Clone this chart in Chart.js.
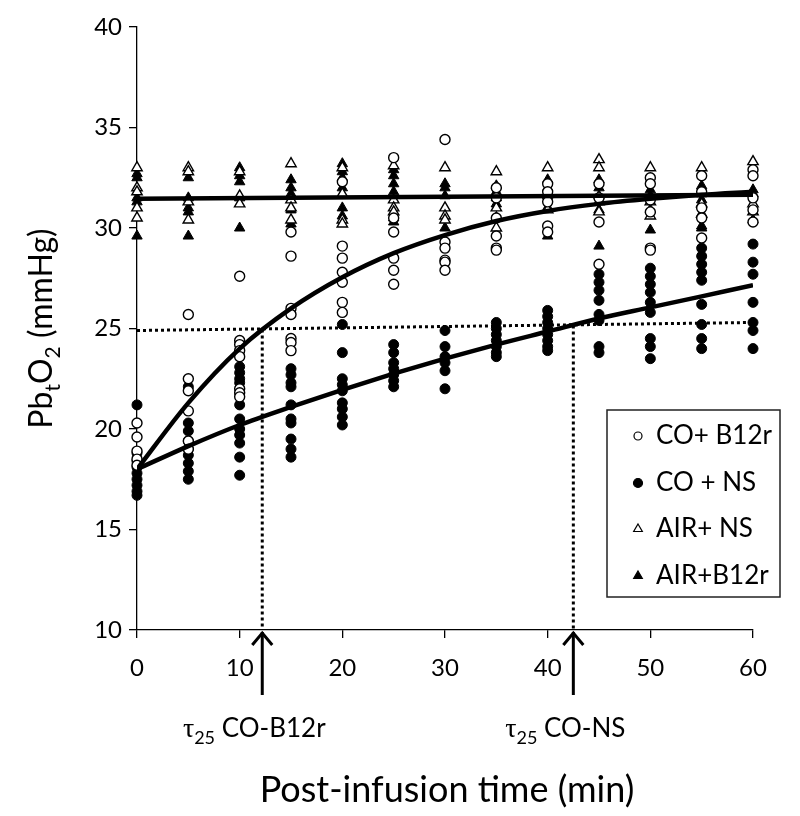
<!DOCTYPE html>
<html>
<head>
<meta charset="utf-8">
<script src="https://cdn.jsdelivr.net/npm/chart.js@4.4.1/dist/chart.umd.min.js"></script>
<style>
  html, body { margin: 0; padding: 0; background: #fff; }
  #box { width: 800px; height: 816px; }
</style>
</head>
<body>
<div id="box"><canvas id="pbto2"></canvas></div>
<script>
// sampling times (min)
var times = [0, 5, 10, 15, 20, 25, 30, 35, 40, 45, 50, 55, 60];

// individual PbtO2 values read per time point
var coB12r = [
    [20.3, 19.6, 18.9, 18.5, 18.2],
    [25.7, 22.5, 21.9, 20.9, 19.4, 19.0],
    [27.6, 24.4, 24.2, 23.9, 23.6, 22.0, 21.8, 21.6],
    [29.8, 28.6, 26.0, 25.7, 24.5, 24.3, 23.9],
    [32.3, 29.1, 28.5, 27.8, 27.3, 26.3, 25.8],
    [33.5, 30.5, 29.8, 28.5, 27.9, 27.2],
    [34.4, 29.3, 29.0, 28.4, 28.3, 27.9],
    [32.0, 31.5, 30.5, 29.6, 29.0, 28.9],
    [32.2, 31.8, 31.3, 30.1, 29.8],
    [32.2, 31.5, 30.3, 28.2],
    [32.5, 32.2, 31.4, 30.8, 29.0, 28.9],
    [32.6, 31.8, 31.0, 30.5, 29.5],
    [32.9, 32.6, 31.5, 30.9, 30.3]
];
var coNS = [
    [21.2, 18.8, 18.4, 18.1, 17.8, 17.5, 17.2, 16.9, 16.7],
    [22.1, 20.3, 19.9, 19.4, 19.0, 18.7, 18.3, 17.9, 17.5],
    [23.1, 22.8, 22.5, 22.3, 21.2, 20.5, 20.0, 19.7, 19.3, 18.6, 17.7],
    [23.0, 22.7, 22.3, 22.1, 21.2, 20.5, 20.3, 19.5, 19.0, 18.6],
    [25.2, 23.8, 22.5, 22.2, 21.9, 21.3, 21.0, 20.6, 20.2],
    [24.2, 23.8, 23.3, 23.0, 22.7, 22.4, 22.1],
    [24.9, 24.1, 23.6, 23.3, 22.9, 22.0],
    [25.3, 25.0, 24.7, 24.4, 24.1, 23.8, 23.6],
    [25.9, 25.6, 25.3, 25.0, 24.7, 24.4, 24.1, 23.9],
    [27.7, 27.3, 26.9, 26.4, 25.7, 25.4, 24.1, 23.8],
    [28.0, 27.6, 27.2, 26.8, 26.3, 25.8, 24.5, 24.1, 23.5],
    [29.0, 28.6, 28.2, 27.8, 27.4, 26.2, 25.2, 24.5, 24.0],
    [29.2, 28.3, 27.7, 26.3, 25.3, 24.9, 24.0]
];
var airNS = [
    [33.0, 32.0, 31.8, 31.0, 30.5],
    [33.0, 32.8, 31.3, 30.4],
    [32.8, 31.6, 31.2],
    [33.2, 31.4, 31.0, 30.4],
    [33.0, 31.7, 30.4, 30.2],
    [33.1, 31.4, 31.0, 30.8],
    [33.0, 31.0, 30.6, 30.4],
    [32.8, 31.0, 30.5, 30.0],
    [33.0, 31.0, 30.9],
    [33.4, 33.0, 31.3, 30.8],
    [33.0, 31.3, 30.6],
    [33.0, 31.2, 30.7],
    [33.3, 31.2, 30.8]
];
var airB12r = [
    [32.7, 32.5, 31.5, 31.3, 29.6],
    [32.5, 31.5, 31.0, 30.8, 29.6],
    [33.0, 32.6, 32.3, 31.5, 30.0],
    [32.4, 32.0, 31.7, 30.9, 30.2],
    [33.2, 32.8, 32.5, 32.0, 31.0, 30.6],
    [32.9, 32.6, 32.2, 31.8, 30.5, 30.3],
    [32.2, 32.0, 31.6, 30.0],
    [32.1, 31.8, 31.5, 31.2],
    [32.4, 32.0, 31.6, 29.6],
    [32.4, 32.0, 31.6, 30.9, 29.1],
    [31.9, 31.6, 30.9, 29.9],
    [32.1, 31.7, 31.4, 30.1, 30.0],
    [31.9, 31.7, 30.4]
];

// fitted curves
var coB12rFit = [18.0, 21.3, 24.0, 26.0, 27.55, 28.75, 29.65, 30.35, 30.85, 31.2, 31.45, 31.65, 31.8];
var coNSFit = [18.0, 19.15, 20.2, 21.1, 21.95, 22.75, 23.5, 24.2, 24.85, 25.5, 26.05, 26.6, 27.15];
var airFitTimes = [0, 60];
var airFit = [31.45, 31.65];

// 25 mmHg threshold and tau25 markers
var thresholdTimes = [0, 60];
var threshold = [24.9, 25.3];
var tau25 = [12.2, 42.5];
var tau25Level = [24.95, 25.15];
var tau25Labels = ['CO-B12r', 'CO-NS'];

var xTicks = [0, 10, 20, 30, 40, 50, 60];
var legendLabels = ['CO+ B12r', 'CO + NS', 'AIR+ NS', 'AIR+B12r'];

var SANS = 'Lato, "Liberation Sans", sans-serif';

function points(groups) {
    var out = [];
    times.forEach(function (t, i) {
        groups[i].forEach(function (v) { out.push({x: t, y: v}); });
    });
    return out;
}
function curve(xs, ys) {
    return xs.map(function (t, i) { return {x: t, y: ys[i]}; });
}

var fitStyle = {showLine: true, pointRadius: 0, borderColor: '#000', borderWidth: 4.5,
                cubicInterpolationMode: 'monotone', fill: false};
var dotStyle = {showLine: true, pointRadius: 0, borderColor: '#000', borderWidth: 3,
                borderDash: [3, 3], fill: false};

var markerStyles = [
    {pointStyle: 'circle', pointRadius: 5, backgroundColor: '#fff', borderColor: '#000', borderWidth: 1.4},
    {pointStyle: 'circle', pointRadius: 5, backgroundColor: '#000', borderColor: '#000', borderWidth: 1},
    {pointStyle: 'triangle', pointRadius: 6, backgroundColor: '#fff', borderColor: '#000', borderWidth: 1.4},
    {pointStyle: 'triangle', pointRadius: 6, backgroundColor: '#000', borderColor: '#000', borderWidth: 1}
];

var datasets = [
    Object.assign({label: 'fit CO+B12r', data: curve(times, coB12rFit)}, fitStyle),
    Object.assign({label: 'fit CO+NS', data: curve(times, coNSFit)}, fitStyle),
    Object.assign({label: 'fit AIR', data: curve(airFitTimes, airFit)}, fitStyle)
];
[coB12r, coNS, airNS, airB12r].forEach(function (g, i) {
    datasets.push(Object.assign({label: legendLabels[i], data: points(g), clip: false}, markerStyles[i]));
});
datasets.push(Object.assign({label: 'threshold', data: curve(thresholdTimes, threshold)}, dotStyle));
tau25.forEach(function (t, i) {
    datasets.push(Object.assign({label: 'tau' + i, data: [{x: t, y: tau25Level[i]}, {x: t, y: 10}]}, dotStyle));
});

// legend box inside the plot
var boxLegend = {
    id: 'boxLegend',
    afterDraw: function (chart) {
        var c = chart.ctx;
        c.save();
        c.strokeStyle = '#222';
        c.lineWidth = 1.5;
        c.strokeRect(607, 410, 173, 187);
        var rows = [435, 482, 528, 575];
        legendLabels.forEach(function (lab, i) {
            var m = markerStyles[i];
            c.fillStyle = m.backgroundColor;
            c.strokeStyle = '#000';
            c.lineWidth = 1.2;
            var r = m.pointStyle === 'circle' ? (i === 0 ? 4 : 4.5) : 5;
            Chart.helpers.drawPoint(c, {pointStyle: m.pointStyle, radius: r, borderWidth: 1.2},
                                    638, rows[i] + 1);
            c.font = '26px ' + SANS;
            c.fillStyle = '#000';
            c.textAlign = 'left';
            c.textBaseline = 'alphabetic';
            c.fillText(lab, 656, rows[i] + 9);
        });
        c.restore();
    }
};

// axis titles (with subscripts) and tau25 arrows under the x axis
var extras = {
    id: 'extras',
    afterDraw: function (chart) {
        var c = chart.ctx;
        var xs = chart.scales.x;
        c.save();
        c.fillStyle = '#000';
        c.strokeStyle = '#000';

        // x title
        c.font = '36px ' + SANS;
        c.textAlign = 'center';
        c.textBaseline = 'alphabetic';
        c.fillText('Post-infusion time (min)', (xs.left + xs.right) / 2 + 2, 802);

        // y title: PbtO2 (mmHg)
        var ys = chart.scales.y;
        var parts = [['Pb', 32, 0], ['t', 21, 8], ['O', 32, 0], ['2', 21, 8], [' (mmHg)', 32, 0]];
        var total = 0;
        parts.forEach(function (p) { c.font = p[1] + 'px ' + SANS; total += c.measureText(p[0]).width; });
        c.translate(52, (ys.top + ys.bottom) / 2);
        c.rotate(-Math.PI / 2);
        c.textAlign = 'left';
        var x = -total / 2;
        parts.forEach(function (p) {
            c.font = p[1] + 'px ' + SANS;
            c.fillText(p[0], x, p[2]);
            x += c.measureText(p[0]).width;
        });
        c.setTransform(1, 0, 0, 1, 0, 0);

        // arrows + labels
        c.lineWidth = 3;
        tau25.forEach(function (t, i) {
            var px = xs.getPixelForValue(t);
            var top = xs.top + 2;
            c.beginPath();
            c.moveTo(px, top);
            c.lineTo(px, top + 63);
            c.stroke();
            c.beginPath();
            c.moveTo(px - 10, top + 13);
            c.lineTo(px, top + 1);
            c.lineTo(px + 10, top + 13);
            c.stroke();

            var tauFont = '28px "Liberation Serif", "DejaVu Serif", serif';
            var subFont = '18px ' + SANS;
            var txtFont = '26px ' + SANS;
            c.font = tauFont; var w1 = c.measureText('\u03c4').width;
            c.font = subFont; var w2 = c.measureText('25').width;
            c.font = txtFont; var w3 = c.measureText(' ' + tau25Labels[i]).width;
            var sx = px - 8 - (w1 + w2 + w3) / 2;
            c.textAlign = 'left';
            c.font = tauFont; c.fillText('\u03c4', sx, 737);
            c.font = subFont; c.fillText('25', sx + w1, 744);
            c.font = txtFont; c.fillText(' ' + tau25Labels[i], sx + w1 + w2, 737);
        });
        c.restore();
    }
};

document.addEventListener('DOMContentLoaded', function () {
    var ctx = document.getElementById('pbto2').getContext('2d');
    var myChart = new Chart(ctx, {
        type: 'scatter',
        data: {datasets: datasets},
        options: {
            responsive: true,
            maintainAspectRatio: false,
            animation: false,
            layout: {padding: {top: 27, right: 47, left: 0, bottom: 0}},
            plugins: {
                legend: {display: false},
                tooltip: {enabled: false}
            },
            scales: {
                x: {
                    type: 'linear',
                    min: 0, max: 60,
                    afterBuildTicks: function (s) { s.ticks = xTicks.map(function (v) { return {value: v}; }); },
                    afterFit: function (s) { s.height = 186; },
                    ticks: {color: '#000', font: {family: SANS, size: 24}, padding: 16, maxRotation: 0},
                    grid: {drawOnChartArea: false, drawTicks: true, tickLength: 8, color: '#000', lineWidth: 1.3},
                    border: {color: '#000', width: 1.3}
                },
                y: {
                    min: 10, max: 40,
                    afterFit: function (s) { s.width = 137; },
                    ticks: {stepSize: 5, color: '#000', font: {family: SANS, size: 24}, padding: 7},
                    grid: {drawOnChartArea: false, drawTicks: true, tickLength: 8, color: '#000', lineWidth: 1.3},
                    border: {color: '#000', width: 1.3}
                }
            }
        },
        plugins: [boxLegend, extras]
    });
});
</script>
</body>
</html>
